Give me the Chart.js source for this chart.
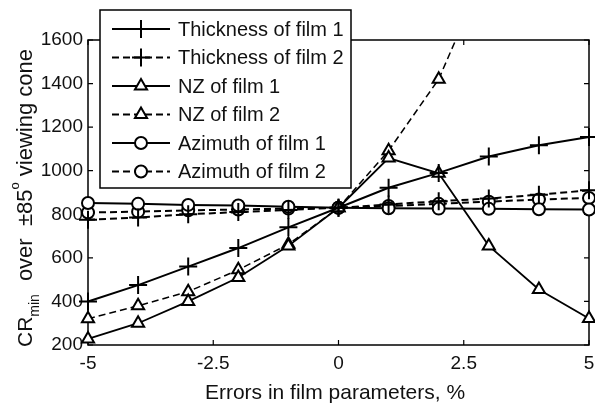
<!DOCTYPE html>
<html><head><meta charset="utf-8">
<script src="https://cdn.jsdelivr.net/npm/chart.js@4/dist/chart.umd.min.js"></script>
<style>html,body{margin:0;padding:0;background:#fff;}</style>
</head><body>
<canvas id="c" width="595" height="403"></canvas>
<script>
// ---- data ----
const errorsPct = [-5, -4, -3, -2, -1, 0, 1, 2, 3, 4, 5];
const thicknessFilm1 = [400, 475, 560, 645, 740, 830, 922, 990, 1065, 1117, 1155];
const thicknessFilm2 = [775, 785, 800, 810, 820, 830, 845, 860, 872, 890, 910];
const nzFilm1 = [228, 300, 400, 510, 655, 830, 1058, 988, 655, 455, 322];
const nzFilm2 = [320, 380, 445, 545, 662, 830, 1092, 1420, 1950, null, null];
const azimuthFilm1 = [852, 848, 843, 840, 835, 830, 828, 826, 825, 823, 822];
const azimuthFilm2 = [808, 812, 818, 822, 826, 830, 838, 848, 858, 868, 875];
const seriesNames = ["Thickness of film 1", "Thickness of film 2", "NZ of film 1", "NZ of film 2", "Azimuth of film 1", "Azimuth of film 2"];
const xTickValues = [-5, -2.5, 0, 2.5, 5];
const yTickValues = [200, 400, 600, 800, 1000, 1200, 1400, 1600];
const xTitle = "Errors in film parameters, %";

const FONT = '"Liberation Sans", Arial, sans-serif';
const INK = '#111';
const pts = arr => errorsPct.map((x, i) => ({x, y: arr[i]}));

function ds(label, data, style, dashed, radius, lw) {
  return {
    label, data: pts(data),
    borderColor: '#000', backgroundColor: '#fff',
    borderWidth: lw || 2, borderDash: dashed ? [7, 4] : [],
    pointStyle: style, pointRadius: radius, pointHoverRadius: radius,
    pointBorderColor: '#000', pointBackgroundColor: '#fff', pointBorderWidth: 2,
    tension: 0, spanGaps: false, fill: false,
    clip: {left: 12, right: 12, top: 0, bottom: 12}
  };
}

const datasets = [
  ds(seriesNames[0], thicknessFilm1, 'cross', false, 9),
  ds(seriesNames[1], thicknessFilm2, 'cross', true, 9),
  ds(seriesNames[2], nzFilm1, 'triangle', false, 7, 1.8),
  ds(seriesNames[3], nzFilm2, 'triangle', true, 7, 1.5),
  ds(seriesNames[4], azimuthFilm1, 'circle', false, 6),
  ds(seriesNames[5], azimuthFilm2, 'circle', true, 6),
];

const framePlugin = {
  id: 'frame',
  beforeDatasetsDraw(chart) {
    const {ctx, chartArea: a, scales} = chart;
    ctx.save();
    ctx.strokeStyle = '#000';
    ctx.lineWidth = 1.5;
    ctx.strokeRect(a.left, a.top, a.right - a.left, a.bottom - a.top);
    ctx.lineWidth = 1.2;
    const tl = 5;
    ctx.beginPath();
    xTickValues.forEach(v => {
      const px = scales.x.getPixelForValue(v);
      ctx.moveTo(px, a.bottom); ctx.lineTo(px, a.bottom - tl);
      ctx.moveTo(px, a.top); ctx.lineTo(px, a.top + tl);
    });
    yTickValues.forEach(v => {
      const py = scales.y.getPixelForValue(v);
      ctx.moveTo(a.left, py); ctx.lineTo(a.left + tl, py);
      ctx.moveTo(a.right, py); ctx.lineTo(a.right - tl, py);
    });
    ctx.stroke();
    ctx.restore();
  },
  afterDraw(chart) {
    const {ctx} = chart;
    ctx.save();
    ctx.fillStyle = INK;
    // x title
    ctx.font = '21px ' + FONT;
    ctx.textAlign = 'center';
    ctx.textBaseline = 'alphabetic';
    ctx.fillText(xTitle, 335, 399);
    // y title (rotated)
    ctx.translate(32, 347);
    ctx.rotate(-Math.PI / 2);
    ctx.textAlign = 'left';
    let x = 0;
    const seg = (t, size, dy) => {
      ctx.font = size + 'px ' + FONT;
      ctx.fillText(t, x, dy);
      x += ctx.measureText(t).width;
    };
    seg('CR', 21, 0);
    seg('min', 14, 7);
    x += 13;
    seg('over  \u00b185', 22, 0);
    seg('o', 13, -13);
    seg(' viewing cone', 22, 0);
    ctx.restore();

    // legend
    const L = 100, T = 10, W = 251, H = 178;
    ctx.save();
    ctx.fillStyle = '#fff';
    ctx.fillRect(L, T, W, H);
    ctx.strokeStyle = '#000';
    ctx.lineWidth = 1.5;
    ctx.strokeRect(L, T, W, H);
    chart.data.datasets.forEach((d, i) => {
      const cy = 29 + i * 28.5;
      ctx.strokeStyle = '#000';
      ctx.lineWidth = 2;
      ctx.setLineDash(d.borderDash);
      ctx.beginPath();
      ctx.moveTo(112, cy); ctx.lineTo(170, cy);
      ctx.stroke();
      ctx.setLineDash([]);
      ctx.fillStyle = '#fff';
      Chart.helpers.drawPoint(ctx, {pointStyle: d.pointStyle, radius: d.pointRadius, borderWidth: 2, rotation: 0}, 141, cy);
      ctx.fillStyle = INK;
      ctx.font = '20px ' + FONT;
      ctx.textAlign = 'left';
      ctx.textBaseline = 'middle';
      ctx.fillText(d.label, 178, cy + 1);
    });
    ctx.restore();
  }
};

new Chart(document.getElementById('c'), {
  type: 'line',
  data: {datasets},
  options: {
    responsive: false,
    animation: false,
    events: [],
    layout: {autoPadding: false, padding: {top: 40, right: 0, left: 0, bottom: 0}},
    plugins: {legend: {display: false}, tooltip: {enabled: false}},
    scales: {
      x: {
        type: 'linear', min: -5, max: 5,
        afterBuildTicks: s => { s.ticks = xTickValues.map(v => ({value: v})); },
        afterFit: s => { s.height = 58; s.paddingRight = 6; s.paddingLeft = 0; },
        grid: {display: false, drawTicks: false},
        border: {display: false},
        ticks: {color: INK, font: {family: FONT, size: 19}, padding: 7, maxRotation: 0,
          callback: v => String(v)}
      },
      y: {
        min: 200, max: 1600,
        afterBuildTicks: s => { s.ticks = yTickValues.map(v => ({value: v})); },
        afterFit: s => { s.width = 88; s.paddingTop = 0; s.paddingBottom = 0; },
        grid: {display: false, drawTicks: false},
        border: {display: false},
        ticks: {color: INK, font: {family: FONT, size: 19}, padding: 5,
          callback: v => String(v)}
      }
    }
  },
  plugins: [framePlugin]
});
</script>
</body></html>
